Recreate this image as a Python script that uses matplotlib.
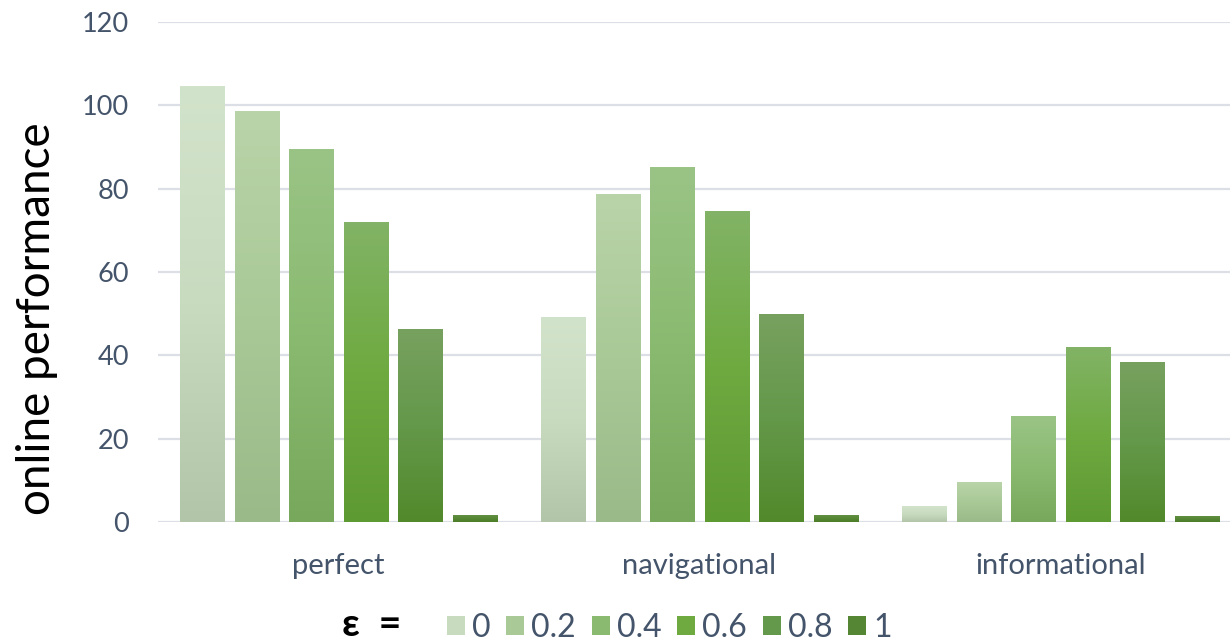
import matplotlib.pyplot as plt
import numpy as np
from matplotlib.colors import LinearSegmentedColormap
from matplotlib.patches import Patch

plt.rcParams['font.family'] = ['Lato', 'DejaVu Sans']

categories = ['perfect', 'navigational', 'informational']
epsilons = ['0', '0.2', '0.4', '0.6', '0.8', '1']
values = [
    [104.5, 49.0, 3.7],   # eps = 0
    [98.6, 78.5, 9.4],    # eps = 0.2
    [89.5, 85.0, 25.4],   # eps = 0.4
    [72.0, 74.6, 41.8],   # eps = 0.6
    [46.3, 49.7, 38.2],   # eps = 0.8
    [1.5, 1.5, 1.4],      # eps = 1
]

# top / middle / bottom colour of each series gradient
grad = [
    ('#d2e3cb', '#c8dbbf', '#b3c5a9'),
    ('#b9d4a9', '#a9c997', '#9aba89'),
    ('#9ac486', '#8aba70', '#77a85b'),
    ('#82b366', '#6eaa40', '#5e9a32'),
    ('#77a15f', '#64984a', '#52892b'),
    ('#628f43', '#558634', '#4c7e29'),
]

text_col = '#44546a'

fig = plt.figure(figsize=(12.3, 6.44), dpi=100)
ax = fig.add_axes([158 / 1230, 122 / 644, 1083 / 1230, 500 / 644])

x = np.arange(len(categories))
step = 0.151
width = 0.122

for i, (series, cols) in enumerate(zip(values, grad)):
    cmap = LinearSegmentedColormap.from_list(f'g{i}', [cols[2], cols[1], cols[0]])
    offs = (i - 2.5) * step
    bars = ax.bar(x + offs, series, width, color='none', edgecolor='none', zorder=2)
    for b in bars:
        x0 = b.get_x()
        h = b.get_height()
        g = np.linspace(0, 1, 256).reshape(-1, 1)
        ax.imshow(g, cmap=cmap, origin='lower', aspect='auto',
                  extent=(x0, x0 + b.get_width(), 0, h), zorder=2,
                  interpolation='bilinear')

ax.set_xlim(-0.5, len(categories) - 0.5)
ax.set_ylim(0, 120)

ax.set_yticks(np.arange(0, 121, 20))
ax.yaxis.grid(True, color='#dcdfe5', lw=1.6, zorder=0)
ax.set_axisbelow(True)
for s in ax.spines.values():
    s.set_visible(False)
ax.tick_params(axis='y', length=0, pad=21, labelsize=19.5, labelcolor=text_col)
ax.set_xticks(x)
ax.set_xticklabels(categories)
ax.tick_params(axis='x', length=0, pad=22, labelsize=21, labelcolor=text_col)

fig.text(37 / 1230, 0.505, 'online performance', rotation=90,
         ha='center', va='center', fontsize=33, color='black')

handles = [Patch(facecolor=c[1], edgecolor='none') for c in grad]
fig.text(372 / 1230, 19 / 644, 'ε  =', ha='center', va='center',
         fontsize=28, fontweight='bold', color='black')
fig.legend(handles, epsilons, loc='center left', ncol=6, frameon=False,
           bbox_to_anchor=(434 / 1230, 16 / 644), fontsize=23,
           labelcolor=text_col, handlelength=0.56, handleheight=0.56,
           handletextpad=0.22, columnspacing=0.5, borderaxespad=0)

fig.savefig('out.png', dpi=100)
